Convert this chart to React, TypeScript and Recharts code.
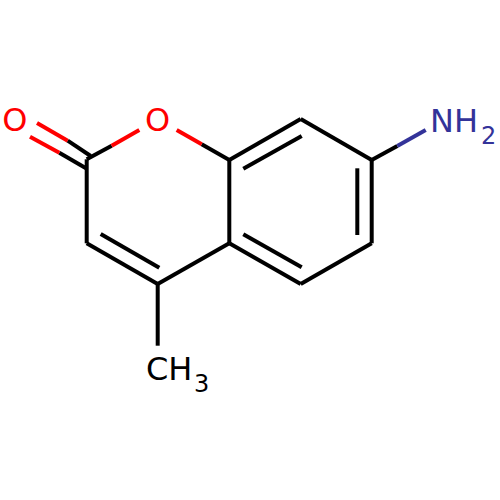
import React from 'react'
import { ComposedChart, Line, Scatter, XAxis, YAxis } from 'recharts'

// bonds as [x, y] pairs in picture units
const blackBonds = [
  [[90.7, 156], [67.7, 140.7]],
  [[86, 168.3], [59.3, 152.7]],
  [[86.7, 159.3], [111.7, 145.7]],
  [[201.7, 144.3], [229.3, 160]],
  [[86.7, 159.3], [86.7, 243.3]],
  [[86.7, 243.3], [157.7, 284]],
  [[100.7, 234], [159.3, 267.7]],
  [[157.7, 284], [229.3, 243.3]],
  [[157.7, 284], [157.7, 345.7]],
  [[229.3, 160], [229.3, 243.3]],
  [[229.3, 243.3], [300.7, 284]],
  [[243.3, 234.3], [301.7, 267.3]],
  [[300.7, 284], [371.7, 243.3]],
  [[371.7, 243.3], [371.7, 160]],
  [[357.3, 235], [357.3, 168.3]],
  [[371.7, 160], [300.7, 119]],
  [[300.7, 119], [229.3, 160]],
  [[301.7, 136], [243.3, 168.7]],
  [[371.7, 160], [397.3, 146]],
]
const redBonds = [
  [[67.7, 140.7], [37, 123]],
  [[59.3, 152.7], [30, 136.7]],
  [[111.7, 145.7], [139.3, 130]],
  [[176.7, 130], [201.7, 144.3]],
]
const blueBonds = [
  [[397.3, 146], [425.7, 130]],
]

const oxygenLabels = [
  { x: 2.2, y: 131, text: 'O' },
  { x: 145, y: 131, text: 'O' },
]
const amineLabels = [{ x: 430, y: 131.5, text: 'NH' }]
const amineSubs = [{ x: 481, y: 144, text: '2' }]
const methylLabels = [{ x: 146, y: 379.5, text: 'CH' }]
const methylSubs = [{ x: 194, y: 391.5, text: '3' }]

const BLACK = '#000000'
const RED = '#FF0000'
const BLUE = '#333399'

const toPoints = (bond: number[][]) => bond.map(([x, y]) => ({ x, y }))

const labelShape = (color: string, size: number) => (props: any) => (
  <text
    x={props.cx}
    y={props.cy}
    fill={color}
    fontSize={size}
    fontFamily="DejaVu Sans"
  >
    {props.payload.text}
  </text>
)

const bondGroups: [number[][][], string][] = [
  [blackBonds, BLACK],
  [redBonds, RED],
  [blueBonds, BLUE],
]

const labelGroups: [any[], string, number][] = [
  [oxygenLabels, RED, 32],
  [amineLabels, BLUE, 32],
  [amineSubs, BLUE, 24],
  [methylLabels, BLACK, 32],
  [methylSubs, BLACK, 24],
]

export default function App() {
  return (
    <div style={{ position: 'absolute', left: 0, top: 0, background: '#fff' }}>
      <ComposedChart width={500} height={500} margin={{ top: 0, right: 0, bottom: 0, left: 0 }}>
        <XAxis hide type="number" dataKey="x" domain={[0, 500]} />
        <YAxis hide type="number" dataKey="y" domain={[0, 500]} reversed />
        {bondGroups.map(([bonds, color]) =>
          bonds.map((bond, i) => (
            <Line
              key={color + i}
              data={toPoints(bond)}
              dataKey="y"
              type="linear"
              stroke={color}
              strokeWidth={4}
              dot={false}
              activeDot={false}
              isAnimationActive={false}
            />
          ))
        )}
        {labelGroups.map(([labels, color, size], i) => (
          <Scatter
            key={i}
            data={labels}
            shape={labelShape(color, size)}
            isAnimationActive={false}
          />
        ))}
      </ComposedChart>
    </div>
  )
}
